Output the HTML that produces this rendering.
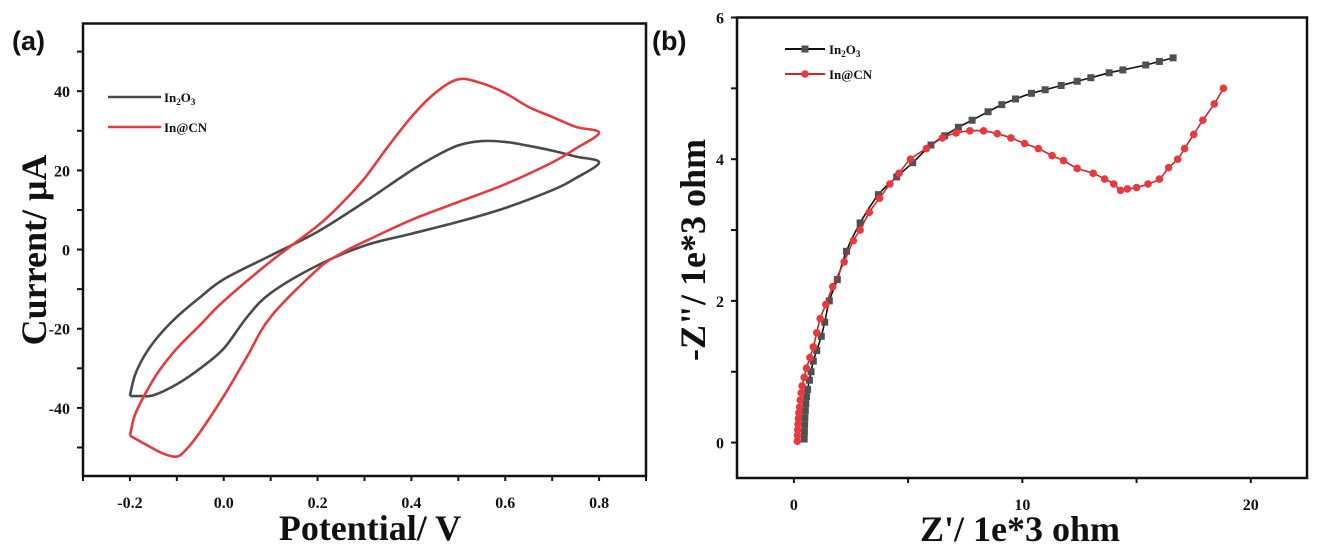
<!DOCTYPE html>
<html><head><meta charset="utf-8">
<style>
html,body{margin:0;padding:0;background:#fff;}
svg{display:block;}
text{font-family:"Liberation Serif",serif;font-weight:bold;fill:#111;}
</style></head>
<body>
<svg id="fig" width="1320" height="550" viewBox="0 0 1320 550" xmlns="http://www.w3.org/2000/svg"></svg>
<script>
// ---------- Panel (a) data: CV ----------
const cvTicksX = [-0.2, 0.0, 0.2, 0.4, 0.6, 0.8];
const cvTickLabelsX = ["-0.2","0.0","0.2","0.4","0.6","0.8"];
const cvTicksY = [-40, -20, 0, 20, 40];
const cvTickLabelsY = ["-40","-20","0","20","40"];
const in2o3CvX = [-0.2,-0.19,-0.17,-0.14,-0.1,-0.05,0,0.1,0.2,0.3,0.4,0.45,0.5,0.55,0.6,0.65,0.7,0.75,0.8,0.75,0.7,0.6,0.5,0.4,0.3,0.2,0.1,0.05,0,-0.05,-0.1,-0.15,-0.18,-0.2];
const in2o3CvY = [-37,-32,-27,-22,-17,-12,-7.5,-1.5,4.5,12,20,23.5,26.3,27.4,27.2,26.2,25,23.5,22,18,15,10.5,7,4,1,-4,-11,-17,-25,-30,-34,-36.8,-37,-37];
const incnCvX = [-0.2,-0.19,-0.17,-0.14,-0.1,-0.05,0,0.1,0.2,0.25,0.3,0.35,0.4,0.45,0.5,0.55,0.6,0.65,0.7,0.75,0.8,0.75,0.7,0.6,0.5,0.4,0.3,0.25,0.2,0.1,0.05,0,-0.05,-0.08,-0.1,-0.13,-0.17,-0.2];
const incnCvY = [-47,-42,-37,-31,-25,-19,-13,-3,6,11.5,18,26,33.5,39.5,43,42,39.5,36,33.5,31,29.5,25.5,22,16.5,12,7.5,2,-1,-5,-17,-27,-37,-46,-50.5,-52.3,-51.5,-49,-47];

// ---------- Panel (b) data: EIS ----------
const eisTicksX = [0, 10, 20];
const eisTickLabelsX = ["0","10","20"];
const eisTicksY = [0, 2, 4, 6];
const eisTickLabelsY = ["0","2","4","6"];
const in2o3EisX = [0.45,0.46,0.47,0.48,0.5,0.52,0.55,0.6,0.68,0.75,0.85,1.0,1.2,1.35,1.55,1.9,2.3,2.9,3.7,4.5,5.2,6.0,6.6,7.2,7.8,8.5,9.1,9.7,10.4,11.0,11.7,12.4,13.0,13.8,14.4,15.4,16.0,16.6];
const in2o3EisY = [0.05,0.15,0.25,0.35,0.45,0.55,0.65,0.75,0.88,1.0,1.15,1.3,1.5,1.7,2.0,2.3,2.7,3.1,3.5,3.75,3.95,4.2,4.33,4.45,4.55,4.67,4.77,4.85,4.93,4.98,5.04,5.1,5.15,5.22,5.26,5.33,5.38,5.43];
const incnEisX = [0.15,0.16,0.17,0.18,0.2,0.22,0.25,0.28,0.32,0.36,0.45,0.55,0.7,0.85,1.0,1.15,1.4,1.7,2.2,2.6,2.9,3.3,3.75,4.2,4.6,5.1,5.8,6.5,7.1,7.7,8.3,8.9,9.5,10.1,10.7,11.3,11.8,12.4,13.1,13.6,14.0,14.3,14.6,15.0,15.5,16.0,16.4,16.8,17.1,17.5,17.9,18.4,18.8];
const incnEisY = [0.02,0.1,0.18,0.26,0.34,0.42,0.5,0.6,0.7,0.8,0.92,1.05,1.2,1.35,1.55,1.75,1.95,2.2,2.55,2.85,3.0,3.25,3.45,3.65,3.8,4.0,4.15,4.3,4.37,4.4,4.4,4.36,4.3,4.22,4.15,4.05,3.98,3.87,3.8,3.72,3.65,3.56,3.58,3.6,3.65,3.72,3.88,4.0,4.15,4.35,4.55,4.78,5.0];

const svg = document.getElementById('fig');
const NS = 'http://www.w3.org/2000/svg';
function mk(tag, attrs, parent){
  const e = document.createElementNS(NS, tag);
  for (const k in attrs) e.setAttribute(k, attrs[k]);
  (parent||svg).appendChild(e);
  return e;
}
function lin(d0,d1,p0,p1){return v=>p0+(v-d0)*(p1-p0)/(d1-d0);}
function smooth(pts){
  let d='M'+pts[0][0].toFixed(1)+','+pts[0][1].toFixed(1);
  for(let i=0;i<pts.length-1;i++){
    const p0=pts[Math.max(0,i-1)],p1=pts[i],p2=pts[i+1],p3=pts[Math.min(pts.length-1,i+2)];
    const c1=[p1[0]+(p2[0]-p0[0])/6,p1[1]+(p2[1]-p0[1])/6];
    const c2=[p2[0]-(p3[0]-p1[0])/6,p2[1]-(p3[1]-p1[1])/6];
    d+=' C'+c1[0].toFixed(1)+','+c1[1].toFixed(1)+' '+c2[0].toFixed(1)+','+c2[1].toFixed(1)+' '+p2[0].toFixed(1)+','+p2[1].toFixed(1);
  }
  return d;
}

// ================= Panel (a) =================
const ax = lin(-0.3, 0.9, 83, 646);
const ay = lin(-57.2, 57.1, 476, 23.5);
const ga = mk('g',{});


let t = mk('text',{x:12,y:50,'font-size':27,style:'font-family:"Liberation Sans",sans-serif'},ga);
t.textContent='(a)';


for(let v=-0.3; v<=0.901; v+=0.1){
  const x=ax(v);
  const tk = mk('line',{x1:x,x2:x,y1:476,y2:481,stroke:'#111','stroke-width':2},ga);
  
  
}
for(let v=-50; v<=50; v+=10){
  const y=ay(v);
  const tk = mk('line',{x1:77,x2:83,y1:y,y2:y,stroke:'#111','stroke-width':2},ga);
  
  
}
cvTicksX.forEach((v,i)=>{
  const e = mk('text',{x:ax(v),y:508,'font-size':16,'text-anchor':'middle'},ga);
  e.textContent=cvTickLabelsX[i];
  
  
});
cvTicksY.forEach((v,i)=>{
  const e = mk('text',{x:70,y:ay(v)+6,'font-size':16,'text-anchor':'end'},ga);
  e.textContent=cvTickLabelsY[i];
  
  
});
let p = mk('path',{d:smooth(in2o3CvX.map((v,i)=>[ax(v),ay(in2o3CvY[i])])),fill:'none',stroke:'#4a4a4a','stroke-width':2.6,'stroke-linejoin':'round'},ga);


p = mk('path',{d:smooth(incnCvX.map((v,i)=>[ax(v),ay(incnCvY[i])])),fill:'none',stroke:'#e23b40','stroke-width':2.6,'stroke-linejoin':'round'},ga);


let fr = mk('rect',{x:83,y:23.5,width:563,height:452.5,fill:'none',stroke:'#111','stroke-width':2.5},ga);


let lg = mk('g',{},ga);


let l = mk('line',{x1:108,x2:161,y1:97,y2:97,stroke:'#4a4a4a','stroke-width':2.6},lg);


t = mk('text',{x:164,y:102,'font-size':13},lg);
t.innerHTML='In<tspan font-size="9" dy="3">2</tspan><tspan dy="-3">O</tspan><tspan font-size="9" dy="3">3</tspan>';


l = mk('line',{x1:108,x2:161,y1:127,y2:127,stroke:'#e23b40','stroke-width':2.6},lg);


t = mk('text',{x:164,y:132,'font-size':13},lg);
t.textContent='In@CN';


t = mk('text',{x:0,y:0,'font-size':36,'text-anchor':'middle',transform:'translate(46,250) rotate(-90)'},ga);
t.textContent='Current/ μA';


t = mk('text',{x:370,y:540,'font-size':36,'text-anchor':'middle'},ga);
t.textContent='Potential/ V';



// ================= Panel (b) =================
const bx = lin(-2.49, 22.46, 737, 1307);
const by = lin(-0.5, 6, 478, 17.5);
const gb = mk('g',{});


t = mk('text',{x:652,y:50,'font-size':27,style:'font-family:"Liberation Sans",sans-serif'},gb);
t.textContent='(b)';


for(let v=0; v<=20.01; v+=5){
  const x=bx(v);
  const tk = mk('line',{x1:x,x2:x,y1:478,y2:483,stroke:'#111','stroke-width':2},gb);
  
  
}
for(let v=0; v<=6.01; v+=1){
  const y=by(v);
  const tk = mk('line',{x1:731,x2:737,y1:y,y2:y,stroke:'#111','stroke-width':2},gb);
  
  
}
eisTicksX.forEach((v,i)=>{
  const e = mk('text',{x:bx(v),y:510,'font-size':16,'text-anchor':'middle'},gb);
  e.textContent=eisTickLabelsX[i];
  
  
});
eisTicksY.forEach((v,i)=>{
  const e = mk('text',{x:724,y:by(v)+6,'font-size':16,'text-anchor':'end'},gb);
  e.textContent=eisTickLabelsY[i];
  
  
});
p = mk('path',{d:smooth(in2o3EisX.map((v,i)=>[bx(v),by(in2o3EisY[i])])),fill:'none',stroke:'#111','stroke-width':1.6},gb);


in2o3EisX.forEach((v,i)=>{
  const r = mk('rect',{x:bx(v)-3.5,y:by(in2o3EisY[i])-3.5,width:7,height:7,fill:'#505050'},gb);
  
  
});
p = mk('path',{d:smooth(incnEisX.map((v,i)=>[bx(v),by(incnEisY[i])])),fill:'none',stroke:'#c8282c','stroke-width':1.6},gb);


incnEisX.forEach((v,i)=>{
  const c = mk('circle',{cx:bx(v),cy:by(incnEisY[i]),r:3.8,fill:'#e8393e'},gb);
  
  
});
fr = mk('rect',{x:737,y:17.5,width:570,height:460.5,fill:'none',stroke:'#111','stroke-width':2.5},gb);


lg = mk('g',{},gb);


l = mk('line',{x1:785,x2:825,y1:49,y2:49,stroke:'#111','stroke-width':2},lg);


let m = mk('rect',{x:801.5,y:45.5,width:7,height:7,fill:'#505050'},lg);


t = mk('text',{x:829,y:54,'font-size':13},lg);
t.innerHTML='In<tspan font-size="9" dy="3">2</tspan><tspan dy="-3">O</tspan><tspan font-size="9" dy="3">3</tspan>';


l = mk('line',{x1:785,x2:825,y1:74,y2:74,stroke:'#c8282c','stroke-width':2},lg);


m = mk('circle',{cx:805,cy:74,r:3.8,fill:'#e8393e'},lg);


t = mk('text',{x:829,y:79,'font-size':13},lg);
t.textContent='In@CN';


t = mk('text',{x:0,y:0,'font-size':36,'text-anchor':'middle',transform:'translate(705,250) rotate(-90)'},gb);
t.textContent='-Z"/ 1e*3 ohm';


t = mk('text',{x:1020,y:541,'font-size':36,'text-anchor':'middle'},gb);
t.textContent="Z'/ 1e*3 ohm";


</script>
</body></html>
